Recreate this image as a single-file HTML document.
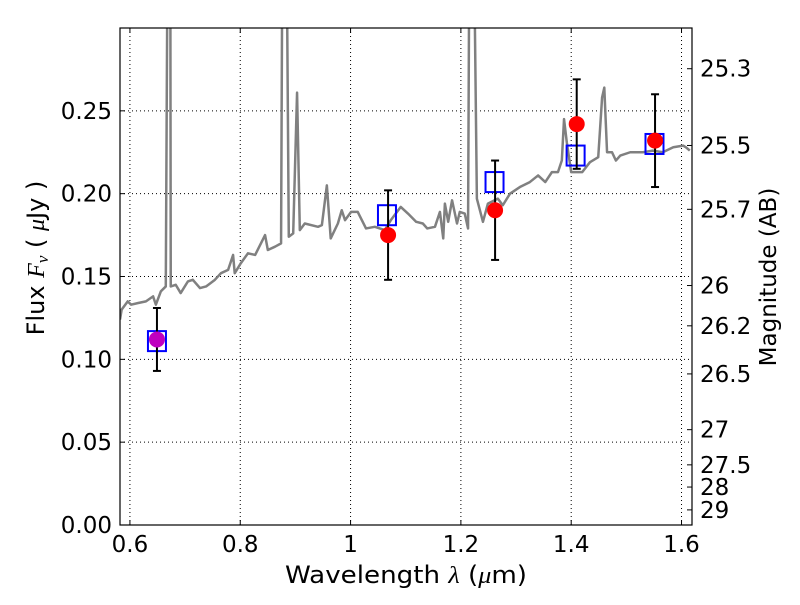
<!DOCTYPE html>
<html><head><meta charset="utf-8"><style>
body{margin:0;background:#fff;}
svg text{font-family:"DejaVu Sans","Liberation Sans",sans-serif;}
</style></head><body>
<svg id="chart" width="800" height="600" xmlns="http://www.w3.org/2000/svg">
<rect width="800" height="600" fill="#fff"/>
<g id="grid"></g>
<g id="spec"></g>
<g id="marks"></g>
<rect x="120" y="28" width="572" height="497" fill="none" stroke="#000" stroke-width="1.2"/>
<g id="axes"></g>
<text x="406" y="583" font-size="24" text-anchor="middle" textLength="242" lengthAdjust="spacingAndGlyphs">Wavelength  <tspan font-family="Liberation Serif" font-style="italic">λ</tspan> (<tspan font-family="Liberation Serif" font-style="italic">μ</tspan>m)</text>
<text transform="translate(44,258) rotate(-90)" font-size="24" text-anchor="middle">Flux  <tspan font-family="Liberation Serif" font-style="italic">F<tspan font-size="17" dy="4">ν</tspan></tspan><tspan dy="-4">  (  </tspan><tspan font-family="Liberation Serif" font-style="italic">μ</tspan>Jy )</text>
<text transform="translate(776,277) rotate(-90)" font-size="23" text-anchor="middle">Magnitude (AB)</text>
</svg>
<script>
const xTicks=[0.6,0.8,1.0,1.2,1.4,1.6];
const xTickLabels=["0.6","0.8","1","1.2","1.4","1.6"];
const yTicks=[0,0.05,0.10,0.15,0.20,0.25];
const yTickLabels=["0.00","0.05","0.10","0.15","0.20","0.25"];
const magTicks=[25.3,25.5,25.7,26,26.2,26.5,27,27.5,28,29];
const specWave=[0.582,0.585,0.596,0.602,0.615,0.629,0.642,0.647,0.656,0.665,0.669,0.673,0.674,0.683,0.692,0.705,0.714,0.727,0.738,0.754,0.765,0.778,0.787,0.790,0.801,0.814,0.827,0.845,0.850,0.863,0.874,0.877,0.883,0.888,0.896,0.903,0.908,0.917,0.941,0.948,0.957,0.964,0.977,0.984,0.990,1.001,1.013,1.028,1.044,1.062,1.073,1.091,1.104,1.119,1.131,1.139,1.153,1.162,1.168,1.171,1.177,1.184,1.193,1.198,1.207,1.213,1.216,1.222,1.229,1.240,1.249,1.267,1.276,1.289,1.307,1.325,1.340,1.353,1.365,1.376,1.383,1.387,1.392,1.400,1.420,1.434,1.449,1.456,1.460,1.465,1.474,1.481,1.489,1.507,1.530,1.548,1.566,1.585,1.603,1.608,1.615];
const specFlux=[.124,.130,.135,.133,.134,.135,.138,.133,.141,.144,.4,.4,.144,.145,.140,.147,.148,.143,.144,.148,.152,.154,.163,.152,.158,.164,.163,.175,.166,.168,.170,.4,.4,.174,.176,.261,.178,.182,.180,.181,.205,.173,.182,.190,.184,.189,.189,.179,.180,.178,.184,.192,.188,.183,.182,.179,.180,.189,.173,.194,.183,.196,.182,.189,.188,.179,.4,.4,.197,.183,.194,.197,.193,.200,.204,.207,.211,.207,.213,.213,.220,.245,.231,.213,.213,.219,.222,.258,.264,.225,.225,.220,.223,.225,.225,.226,.225,.228,.229,.228,.226];
const obsWave=[0.649,1.068,1.262,1.410,1.552];
const obsFlux=[0.112,0.175,0.190,0.242,0.232];
const obsErr=[0.019,0.027,0.030,0.027,0.028];
const modelWave=[0.649,1.066,1.261,1.408,1.551];
const modelFlux=[0.111,0.187,0.207,0.223,0.230];

const X0=120,X1=692,Y0=525,Y1=28,XMIN=0.582,XMAX=1.619,YMIN=0,YMAX=0.3;
const sx=v=>X0+(v-XMIN)/(XMAX-XMIN)*(X1-X0);
const sy=v=>Y0-(v-YMIN)/(YMAX-YMIN)*(Y0-Y1);
const NS="http://www.w3.org/2000/svg";
function mk(tag,attrs,parent,txt){const e=document.createElementNS(NS,tag);for(const k in attrs)e.setAttribute(k,attrs[k]);if(txt!==undefined)e.textContent=txt;parent.appendChild(e);return e;}
const grid=document.getElementById('grid'),axes=document.getElementById('axes'),spec=document.getElementById('spec'),marks=document.getElementById('marks');
xTicks.forEach((t,i)=>{const x=sx(t);
 let g=mk('line',{x1:x,x2:x,y1:Y1,y2:Y0,stroke:'#000','stroke-width':1,'stroke-dasharray':'1,3'},grid);
 
 mk('line',{x1:x,x2:x,y1:Y0,y2:Y0-5,stroke:'#000'},axes);mk('line',{x1:x,x2:x,y1:Y1,y2:Y1+5,stroke:'#000'},axes);
 let l=mk('text',{x:x,y:Y0+27,'font-size':23,'text-anchor':'middle'},axes,xTickLabels[i]);
 });
yTicks.forEach((t,i)=>{const y=sy(t);
 let g=mk('line',{x1:X0,x2:X1,y1:y,y2:y,stroke:'#000','stroke-width':1,'stroke-dasharray':'1,3'},grid);
 
 mk('line',{x1:X0,x2:X0+5,y1:y,y2:y,stroke:'#000'},axes);
 let l=mk('text',{x:X0-8,y:y+8,'font-size':23,'text-anchor':'end'},axes,yTickLabels[i]);
 });
magTicks.forEach(m=>{const y=sy(Math.pow(10,(23.9-m)/2.5));
 mk('line',{x1:X1,x2:X1-5,y1:y,y2:y,stroke:'#000'},axes);
 let l=mk('text',{x:X1+8,y:y+8,'font-size':23},axes,String(m));
 });
mk('clipPath',{id:'clp'},document.getElementById('chart'));
mk('rect',{x:X0,y:Y1,width:X1-X0,height:Y0-Y1},document.getElementById('clp'));
const pl=mk('polyline',{points:specWave.map((w,i)=>sx(w)+','+sy(specFlux[i])).join(' '),fill:'none',stroke:'#808080','stroke-width':2.5,'clip-path':'url(#clp)','stroke-linejoin':'round'},spec);

modelWave.forEach((w,i)=>{const x=sx(w),y=sy(modelFlux[i]);
 const r=mk('rect',{x:x-9,y:y-10,width:18,height:20,fill:'none',stroke:'#0000ff','stroke-width':2},marks);
 });
obsWave.forEach((w,i)=>{const x=sx(w),y=sy(obsFlux[i]),yt=sy(obsFlux[i]+obsErr[i]),yb=sy(obsFlux[i]-obsErr[i]);
 const e=mk('g',{stroke:'#000','stroke-width':2},marks);
 
 mk('line',{x1:x,x2:x,y1:yt,y2:yb},e);mk('line',{x1:x-4,x2:x+4,y1:yt,y2:yt},e);mk('line',{x1:x-4,x2:x+4,y1:yb,y2:yb},e);
 const c=mk('circle',{cx:x,cy:y,r:8,fill:i===0?'#bf00bf':'#ff0000'},marks);
 });
</script>
</body></html>
